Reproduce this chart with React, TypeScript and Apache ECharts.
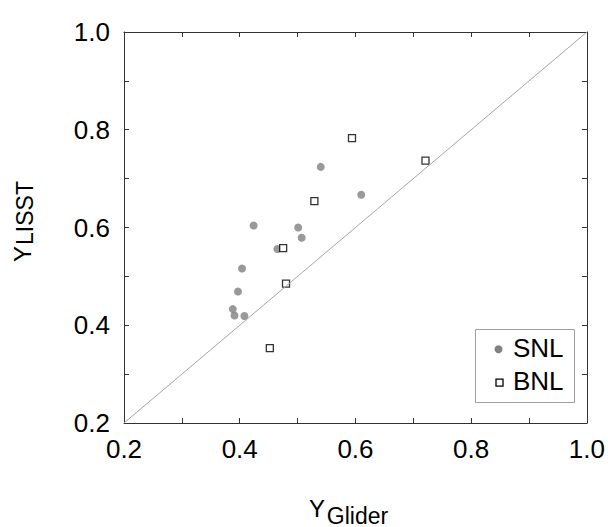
import React, { useEffect, useRef } from "react";
import * as echarts from "echarts";

const snlX = [0.540, 0.610, 0.424, 0.501, 0.507, 0.465, 0.404, 0.397, 0.388, 0.391, 0.408];
const snlY = [0.724, 0.667, 0.604, 0.600, 0.579, 0.556, 0.516, 0.469, 0.433, 0.420, 0.419];
const bnlX = [0.594, 0.721, 0.529, 0.475, 0.480, 0.452];
const bnlY = [0.783, 0.737, 0.654, 0.558, 0.485, 0.353];
const diagonal = [[0.2, 0.2], [1.0, 1.0]];
const axisMin = 0.2;
const axisMax = 1.0;
const tickStep = 0.1;

const FONT = "Liberation Sans, Arial, sans-serif";

export default function App() {
  const ref = useRef<HTMLDivElement>(null);
  useEffect(() => {
    document.body.style.margin = "0";
    const chart = echarts.init(ref.current!, null, { renderer: "svg" });
    const labelFmt = (v: number) => (Math.round(v * 10) % 2 === 0 ? v.toFixed(1) : "");
    const baseAxis = {
      type: "value" as const,
      min: axisMin,
      max: axisMax,
      interval: tickStep,
      axisLine: { show: true, onZero: false, lineStyle: { color: "#333", width: 1 } },
      axisTick: { show: true, inside: true, length: 5, lineStyle: { color: "#333" } },
      splitLine: { show: false },
    };
    chart.setOption({
      animation: false,
      grid: { left: 124, right: 18, top: 32, bottom: 104 },
      xAxis: [
        {
          ...baseAxis,
          position: "bottom",
          axisLabel: { formatter: labelFmt, fontSize: 26, color: "#000", margin: 13, fontFamily: FONT },
        },
        { ...baseAxis, position: "top", axisLabel: { show: false } },
      ],
      yAxis: [
        {
          ...baseAxis,
          position: "left",
          axisLabel: { formatter: labelFmt, fontSize: 26, color: "#000", margin: 14, fontFamily: FONT },
        },
        { ...baseAxis, position: "right", axisLabel: { show: false } },
      ],
      series: [
        {
          type: "line",
          data: diagonal,
          symbol: "none",
          silent: true,
          lineStyle: { color: "#a6a6a6", width: 1 },
        },
        {
          name: "SNL",
          type: "scatter",
          data: snlX.map((x, i) => [x, snlY[i]]),
          symbol: "circle",
          symbolSize: 8,
          itemStyle: { color: "#808080" },
        },
        {
          name: "BNL",
          type: "scatter",
          data: bnlX.map((x, i) => [x, bnlY[i]]),
          symbol: "rect",
          symbolSize: 7,
          itemStyle: { color: "#fff", borderColor: "#000", borderWidth: 1.3 },
        },
      ],
      graphic: [
        {
          type: "rect",
          shape: { x: 475.5, y: 329.5, width: 99, height: 73 },
          style: { fill: "#fff", stroke: "#a0a0a0", lineWidth: 1 },
          z: 100,
        },
        {
          type: "circle",
          shape: { cx: 498.5, cy: 349.3, r: 4 },
          style: { fill: "#808080" },
          z: 101,
        },
        {
          type: "rect",
          shape: { x: 496, y: 379.2, width: 7, height: 7 },
          style: { fill: "#fff", stroke: "#000", lineWidth: 1.3 },
          z: 101,
        },
        {
          type: "text",
          x: 513,
          y: 348,
          style: { text: "SNL", fontSize: 26, fontFamily: FONT, fill: "#000", align: "left", verticalAlign: "middle" },
          z: 101,
        },
        {
          type: "text",
          x: 513,
          y: 381,
          style: { text: "BNL", fontSize: 26, fontFamily: FONT, fill: "#000", align: "left", verticalAlign: "middle" },
          z: 101,
        },
        {
          type: "text",
          x: 317,
          y: 508.5,
          style: { text: "Y", fontSize: 24, fontFamily: FONT, fill: "#000", align: "center", verticalAlign: "middle" },
        },
        {
          type: "text",
          x: 357.5,
          y: 515.5,
          style: { text: "Glider", fontSize: 23, fontFamily: FONT, fill: "#000", align: "center", verticalAlign: "middle" },
        },
        {
          type: "text",
          x: 22,
          y: 254,
          rotation: Math.PI / 2,
          style: { text: "Y", fontSize: 24, fontFamily: FONT, fill: "#000", align: "center", verticalAlign: "middle" },
        },
        {
          type: "text",
          x: 25,
          y: 213,
          rotation: Math.PI / 2,
          style: { text: "LISST", fontSize: 23, fontFamily: FONT, fill: "#000", align: "center", verticalAlign: "middle" },
        },
      ],
    });
    return () => chart.dispose();
  }, []);
  return <div ref={ref} style={{ width: 608, height: 527 }} />;
}
